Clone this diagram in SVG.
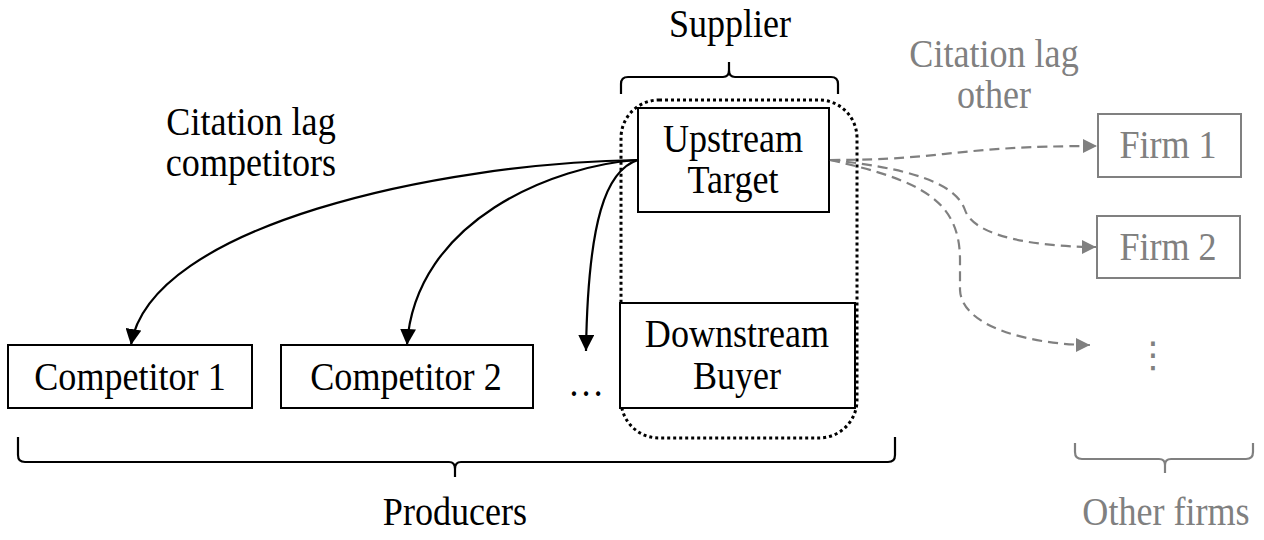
<svg xmlns="http://www.w3.org/2000/svg" width="1264" height="540" viewBox="0 0 1264 540">
<style>
  .t { font-family: "Liberation Serif", "Times New Roman", serif; font-size: 41px; text-anchor: middle; fill: #000; }
  .g { fill: #808080; }
  .box { fill: #fff; stroke: #000; stroke-width: 2; }
  .gbox { fill: #fff; stroke: #808080; stroke-width: 2; }
  .brace { fill: none; stroke: #000; stroke-width: 2.2; }
  .gbrace { fill: none; stroke: #808080; stroke-width: 2.2; }
  .arr { fill: none; stroke: #000; stroke-width: 2.2; }
  .darr { fill: none; stroke: #808080; stroke-width: 2.2; stroke-dasharray: 10 6; }
</style>
<defs>
  <marker id="ah" viewBox="0 0 10 10" refX="10" refY="5" markerWidth="16" markerHeight="16" markerUnits="userSpaceOnUse" orient="auto">
    <path d="M0,0 L10,5 L0,10 Z" fill="#000"/>
  </marker>
  <marker id="gah" viewBox="0 0 10 10" refX="10" refY="5" markerWidth="14" markerHeight="14" markerUnits="userSpaceOnUse" orient="auto">
    <path d="M0,0 L10,5 L0,10 Z" fill="#808080"/>
  </marker>
</defs>

<g id="supplier-group">
  <rect x="621" y="100" width="236" height="338" rx="38" ry="38" fill="none" stroke="#000" stroke-width="3" stroke-dasharray="3 3"/>
</g>

<g id="upstream-target">
  <rect class="box" x="638" y="108" width="191" height="104"/>
  <text class="t" transform="translate(733,152) scale(0.88,1)">Upstream</text>
  <text class="t" transform="translate(733,193) scale(0.88,1)">Target</text>
</g>

<g id="downstream-buyer">
  <rect class="box" x="620" y="303" width="235" height="105"/>
  <text class="t" transform="translate(737,347) scale(0.88,1)">Downstream</text>
  <text class="t" transform="translate(737,389) scale(0.88,1)">Buyer</text>
</g>

<g id="competitor-1">
  <rect class="box" x="8" y="345" width="244" height="63"/>
  <text class="t" transform="translate(130,390) scale(0.88,1)">Competitor 1</text>
</g>

<g id="competitor-2">
  <rect class="box" x="281" y="345" width="252" height="63"/>
  <text class="t" transform="translate(406,390) scale(0.88,1)">Competitor 2</text>
</g>

<g id="ellipsis-producers">
  <text class="t" transform="translate(586,396) scale(0.88,1)">…</text>
</g>

<g id="firm-1">
  <rect class="gbox" x="1098" y="114" width="143" height="63"/>
  <text class="t g" transform="translate(1168,158) scale(0.88,1)">Firm 1</text>
</g>

<g id="firm-2">
  <rect class="gbox" x="1097" y="216" width="143" height="62"/>
  <text class="t g" transform="translate(1168,260) scale(0.88,1)">Firm 2</text>
</g>

<g id="ellipsis-firms">
  <text class="t g" x="1153" y="367" style="font-family: 'DejaVu Sans', sans-serif; font-size: 36px;">⋮</text>
</g>

<g id="labels">
  <text class="t" transform="translate(730,37) scale(0.88,1)">Supplier</text>
  <text class="t" transform="translate(251,135) scale(0.88,1)">Citation lag</text>
  <text class="t" transform="translate(251,176) scale(0.88,1)">competitors</text>
  <text class="t g" transform="translate(994,67) scale(0.88,1)">Citation lag</text>
  <text class="t g" transform="translate(994,108) scale(0.88,1)">other</text>
  <text class="t" transform="translate(455,525) scale(0.88,1)">Producers</text>
  <text class="t g" transform="translate(1166,525) scale(0.88,1)">Other firms</text>
</g>

<g id="braces">
  <path class="brace" d="M621,94 L621,84 Q621,77 628,77 L723,77 Q729,77 729,70 L729,62 M729,70 Q729,77 735,77 L831,77 Q838,77 838,84 L838,94"/>
  <path class="brace" d="M18,437 L18,455 Q18,462 25,462 L449,462 Q455,462 455,469 L455,477 M455,469 Q455,462 461,462 L888,462 Q895,462 895,455 L895,437"/>
  <path class="gbrace" d="M1075,443 L1075,452 Q1075,459 1082,459 L1159,459 Q1165,459 1165,465 L1165,473 M1165,465 Q1165,459 1171,459 L1246,459 Q1253,459 1253,452 L1253,443"/>
</g>

<g id="connectors">
  <path class="arr" d="M638,160 C440,163 150,225 131,345" marker-end="url(#ah)"/>
  <path class="arr" d="M638,160 C555,165 415,220 407,345" marker-end="url(#ah)"/>
  <path class="arr" d="M638,160 C606,170 588,220 586,351" marker-end="url(#ah)"/>
  <path class="darr" d="M830,160 C950,160 950,146 1097,146" marker-end="url(#gah)"/>
  <path class="darr" d="M830,160 C930,170 958,190 965,210 C975,240 1050,247 1096,247" marker-end="url(#gah)"/>
  <path class="darr" d="M830,160 C920,180 960,200 960,260 L960,290 C962,330 1040,345 1090,345" marker-end="url(#gah)"/>
</g>
</svg>
